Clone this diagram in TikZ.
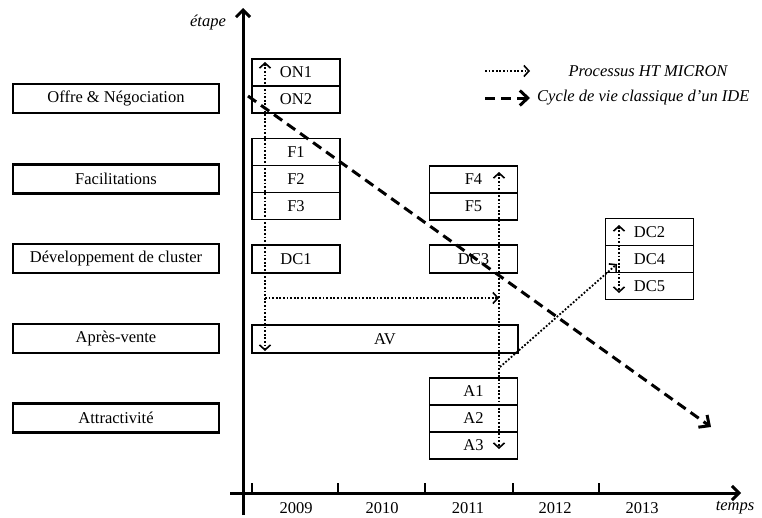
\documentclass[tikz,border=0pt]{standalone}
\usepackage{fontspec}
\setmainfont{Liberation Serif}
\usepackage{tikz}
\usetikzlibrary{arrows.meta,positioning}

\begin{document}
\begin{tikzpicture}[x=1pt,y=-1pt,
  font=\fontsize{16.5}{19}\selectfont,
  stage/.style={draw, line width=2.2pt, minimum width=206pt, minimum height=29pt, inner sep=0pt},
  act/.style={draw, line width=1.8pt, minimum width=88pt, minimum height=27pt, inner sep=0pt, outer sep=0pt},
  axis/.style={line width=3pt, -{Straight Barb[length=7pt,width=14pt]}},
  ht/.style={line width=1.8pt, dash pattern=on 1.8pt off 1.8pt, {Straight Barb[length=5pt,width=11pt,line width=1.6pt]}-{Straight Barb[length=5pt,width=11pt,line width=1.6pt]}},
  htone/.style={line width=1.8pt, dash pattern=on 1.8pt off 1.8pt, -{Straight Barb[length=5pt,width=11pt,line width=1.6pt]}},
  ide/.style={line width=3pt, dash pattern=on 10pt off 6pt, -{Straight Barb[length=8pt,width=15pt]}}]
\useasboundingbox (0,0) rectangle (762,517);

% axes
\draw[line width=3pt] (243,515) -- (243,30);
\draw[axis] (243,40) -- (243,8);
\draw[axis] (230,493) -- (741,493);
\foreach \x in {252,338,425,513,599}
  \draw[line width=2pt] (\x,483) -- (\x,493);
\node (etape) at (208,23) {\itshape étape};
\node (temps) at (735,508) {\itshape temps};
\foreach \x/\an in {296/2009,382/2010,468/2011,555/2012,642/2013}
  \node (y\an) at (\x,508) {\an};

% etapes
\node[stage] (sON) at (116,98.5) {Offre \& Négociation};
\node[stage] (sF) at (116,179) {Facilitations};
\node[stage] (sDC) at (116,258.5) {Développement de cluster};
\node[stage] (sAV) at (116,338.5) {Après-vente};
\node[stage] (sA) at (116,418) {Attractivité};

% activites
\node[act] (ON1) at (296,72.5) {ON1};
\node[act, below=0pt of ON1] (ON2) {ON2};
\node[act] (F1) at (296,152) {F1};
\node[act, below=0pt of F1] (F2) {F2};
\node[act, below=0pt of F2] (F3) {F3};
\node[act] (F4) at (473.5,179.5) {F4};
\node[act, below=0pt of F4] (F5) {F5};
\node[act, minimum height=28pt] (DC1) at (296,259) {DC1};
\node[act, minimum height=28pt] (DC3) at (473.5,259) {DC3};
\node[act, minimum width=266pt, minimum height=28pt] (AV) at (385,339) {AV};
\node[act] (A1) at (473.5,391.5) {A1};
\node[act, below=0pt of A1] (A2) {A2};
\node[act, below=0pt of A2] (A3) {A3};
\node[act] (DC2) at (649.5,232) {DC2};
\node[act, below=0pt of DC2] (DC4) {DC4};
\node[act, below=0pt of DC4] (DC5) {DC5};

% processus HT MICRON
\coordinate (p1) at (265,62);
\coordinate (p2) at (265,351);
\coordinate (p3) at (265,298);
\coordinate (p4) at (499,298);
\coordinate (p5) at (499,172);
\coordinate (p6) at (499,449);
\coordinate (p7) at (500,367);
\coordinate (p8) at (617,264);
\coordinate (p9) at (619,225);
\coordinate (p10) at (619,293);
\draw[ht] (p1) -- (p2);
\draw[htone] (p3) -- (p4);
\draw[ht] (p5) -- (p6);
\draw[htone] (p7) -- (p8);
\draw[ht] (p9) -- (p10);

% cycle classique
\coordinate (c1) at (248,96);
\coordinate (c2) at (711,427);
\draw[ide] (c1) -- (c2);

% legende
\coordinate (l1) at (485,71);
\coordinate (l2) at (530,71);
\coordinate (l3) at (485,98);
\coordinate (l4) at (530,98);
\draw[htone] (l1) -- (l2);
\draw[ide] (l3) -- (l4);
\node (lgHT) at (648,71) {\itshape Processus HT MICRON};
\node[right, inner sep=0pt] (lgIDE) at (537,98) {\itshape Cycle de vie classique d'un IDE};
\end{tikzpicture}
\end{document}
